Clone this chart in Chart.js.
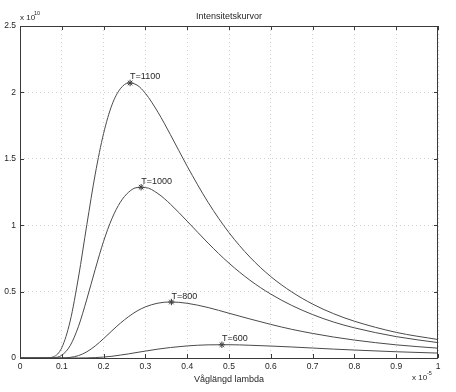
<!DOCTYPE html>
<html>
<head>
<meta charset="utf-8">
<script src="https://cdn.jsdelivr.net/npm/chart.js@4/dist/chart.umd.min.js"></script>
<style>
html,body{margin:0;padding:0;background:#fff;}
canvas{display:block;}
</style>
</head>
<body>
<canvas id="c" width="456" height="392"></canvas>
<script>
// wavelength (x 1e-5 m)
const lambda = [0, 0.04, 0.06, 0.08, 0.1, 0.12, 0.14, 0.16, 0.18, 0.2, 0.22, 0.24, 0.26, 0.28, 0.3, 0.33, 0.36, 0.4, 0.45, 0.5, 0.55, 0.6, 0.65, 0.7, 0.75, 0.8, 0.9, 1.0];
// intensity (x 1e10)
const T1100 = [0, 0, 0.0002, 0.009, 0.078, 0.278, 0.610, 1.006, 1.385, 1.691, 1.906, 2.027, 2.071, 2.055, 1.993, 1.851, 1.681, 1.444, 1.172, 0.944, 0.760, 0.613, 0.498, 0.406, 0.334, 0.277, 0.193, 0.139];
const T1000 = [0, 0, 0, 0.0018, 0.021, 0.093, 0.239, 0.444, 0.668, 0.879, 1.050, 1.173, 1.249, 1.283, 1.283, 1.238, 1.158, 1.030, 0.865, 0.714, 0.586, 0.481, 0.396, 0.327, 0.271, 0.227, 0.161, 0.116];
const T800  = [0, 0, 0, 0, 0.0006, 0.0047, 0.018, 0.047, 0.091, 0.146, 0.205, 0.262, 0.312, 0.354, 0.385, 0.413, 0.422, 0.412, 0.380, 0.337, 0.294, 0.253, 0.216, 0.185, 0.158, 0.135, 0.099, 0.074];
const T600  = [0, 0, 0, 0, 0, 0, 0.0003, 0.001, 0.003, 0.007, 0.013, 0.022, 0.031, 0.042, 0.052, 0.067, 0.079, 0.091, 0.099, 0.100, 0.096, 0.090, 0.083, 0.075, 0.067, 0.060, 0.047, 0.037];
// peaks
const peakLambda = [0.2634, 0.2898, 0.3622, 0.483];
const peakValue  = [2.071, 1.286, 0.4215, 0.100];
const peakLabels = ['T=1100', 'T=1000', 'T=800', 'T=600'];
// ticks
const xTicks = [0, 0.1, 0.2, 0.3, 0.4, 0.5, 0.6, 0.7, 0.8, 0.9, 1];
const xTickLabels = ['0', '0.1', '0.2', '0.3', '0.4', '0.5', '0.6', '0.7', '0.8', '0.9', '1'];
const yTicks = [0, 0.5, 1, 1.5, 2, 2.5];
const yTickLabels = ['0', '0.5', '1', '1.5', '2', '2.5'];
const titleText = 'Intensitetskurvor';
const xLabelText = 'Våglängd lambda';

const FONT = '"Liberation Sans", Arial, Helvetica, sans-serif';
const LINE = '#4a4a4a';
const TXT = '#262626';

function series(ys){ return lambda.map((x,i)=>({x:x, y:ys[i]})); }
function lineDs(ys){
  return {type:'line', data:series(ys), borderColor:LINE, borderWidth:1, pointRadius:0,
          cubicInterpolationMode:'monotone', fill:false};
}

const decor = {
  id:'decor',
  afterDraw(chart){
    const ctx = chart.ctx;
    const a = chart.chartArea;
    const xs = chart.scales.x, ys = chart.scales.y;
    ctx.save();
    // box
    ctx.strokeStyle = '#3a3a3a';
    ctx.lineWidth = 1;
    ctx.strokeRect(Math.round(a.left)+0.5, Math.round(a.top)+0.5, Math.round(a.right-a.left)-1, Math.round(a.bottom-a.top));
    // inward ticks
    ctx.beginPath();
    xTicks.forEach(v=>{
      const px = Math.round(xs.getPixelForValue(v))+0.5;
      ctx.moveTo(px, a.bottom); ctx.lineTo(px, a.bottom-4);
      ctx.moveTo(px, a.top); ctx.lineTo(px, a.top+4);
    });
    yTicks.forEach(v=>{
      const py = Math.round(ys.getPixelForValue(v))+0.5;
      ctx.moveTo(a.left, py); ctx.lineTo(a.left+4, py);
      ctx.moveTo(a.right, py); ctx.lineTo(a.right-4, py);
    });
    ctx.stroke();
    // texts
    ctx.fillStyle = TXT;
    ctx.textBaseline = 'alphabetic';
    ctx.font = '9px ' + FONT;
    ctx.textAlign = 'center';
    const cx = (a.left + a.right)/2;
    ctx.fillText(titleText, cx, 18.5);
    ctx.fillText(xLabelText, cx, 381.5);
    // exponents
    ctx.textAlign = 'left';
    ctx.font = '8px ' + FONT;
    ctx.fillText('x 10', 412, 380);
    ctx.fillText('x 10', 20, 20);
    ctx.font = '5.5px ' + FONT;
    ctx.fillText('-5', 427, 375);
    ctx.fillText('10', 34, 15);
    // peak labels
    ctx.font = '9px ' + FONT;
    const meta = chart.getDatasetMeta(4);
    meta.data.forEach((pt,i)=>{
      ctx.fillText(peakLabels[i], pt.x, pt.y - 3.5);
    });
    ctx.restore();
  }
};

new Chart(document.getElementById('c'), {
  type:'line',
  data:{
    datasets:[
      lineDs(T1100), lineDs(T1000), lineDs(T800), lineDs(T600),
      {type:'scatter', data:peakLambda.map((x,i)=>({x:x, y:peakValue[i]})),
       pointStyle:'star', pointRadius:3.2, borderColor:'#333', borderWidth:1, backgroundColor:'#333', showLine:false}
    ]
  },
  options:{
    responsive:false,
    animation:false,
    devicePixelRatio:1,
    layout:{padding:{left:0, right:18, top:26, bottom:0}},
    plugins:{legend:{display:false}, title:{display:false}, tooltip:{enabled:false}},
    scales:{
      x:{type:'linear', min:0, max:1,
         afterFit(s){ s.height = 34; },
         afterBuildTicks(s){ s.ticks = xTicks.map(v=>({value:v})); },
         grid:{color:'#d2d2d2', lineWidth:1, drawTicks:false},
         border:{display:false, dash:[1,3]},
         ticks:{padding:4, color:TXT, font:{family:FONT, size:8.5}, maxRotation:0, autoSkip:false,
                callback:(v,i)=>xTickLabels[i]}
      },
      y:{type:'linear', min:0, max:2.5,
         afterFit(s){ s.width = 20; },
         afterBuildTicks(s){ s.ticks = yTicks.map(v=>({value:v})); },
         grid:{color:'#d2d2d2', lineWidth:1, drawTicks:false},
         border:{display:false, dash:[1,3]},
         ticks:{padding:4, color:TXT, font:{family:FONT, size:8.5},
                callback:(v,i)=>yTickLabels[i]}
      }
    }
  },
  plugins:[decor]
});
</script>
</body>
</html>
